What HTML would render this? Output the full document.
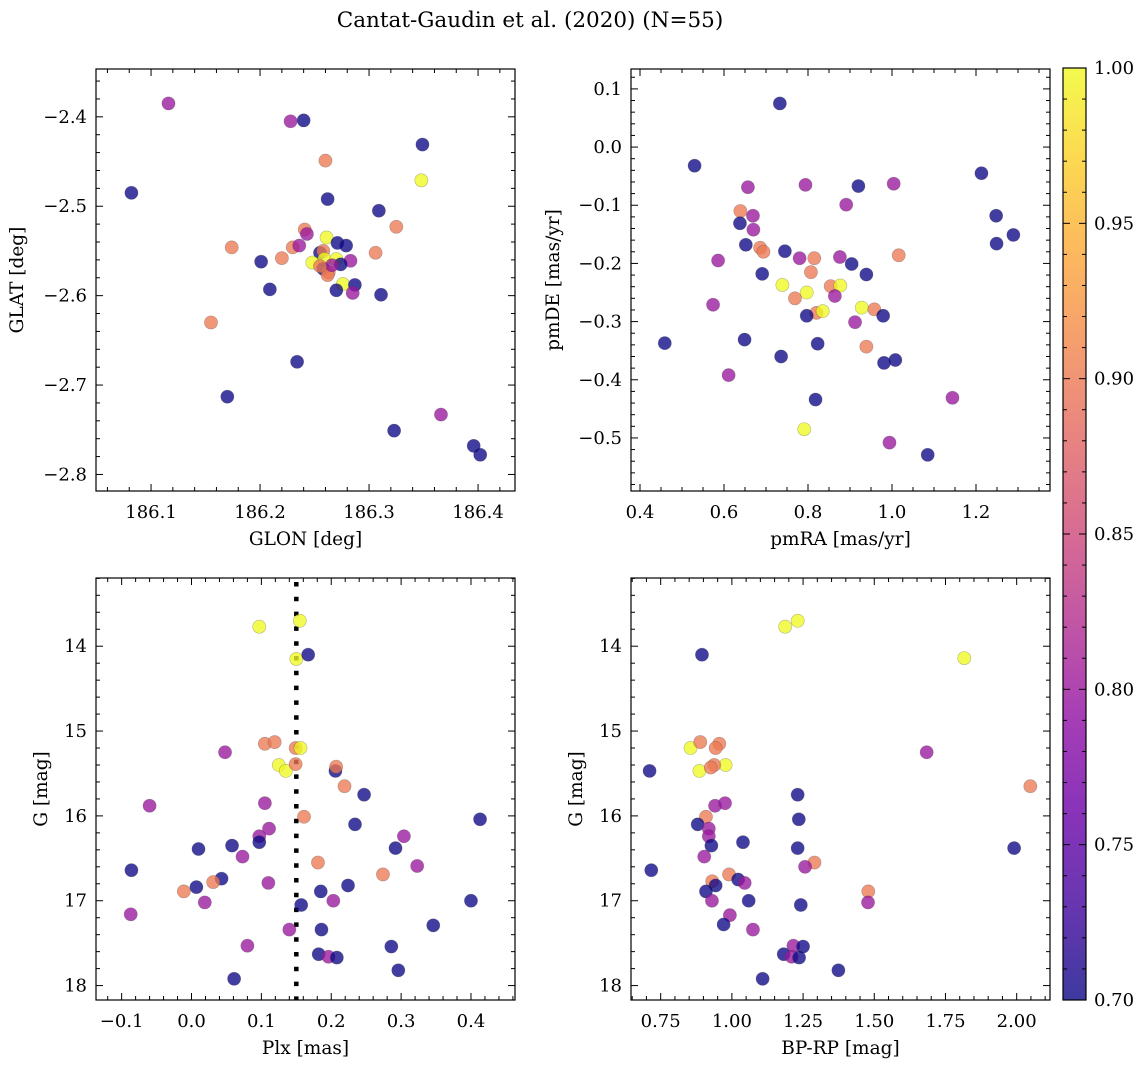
<!DOCTYPE html>
<html><head><meta charset="utf-8"><style>
html,body{margin:0;padding:0;background:#fff;}
svg{display:block;font-family:"DejaVu Serif","Liberation Serif",serif;}
</style></head><body>
<svg id="fig" width="1148" height="1068" viewBox="0 0 1148 1068" xmlns="http://www.w3.org/2000/svg">
<defs>
<linearGradient id="plasma" x1="0" y1="1" x2="0" y2="0">
<stop offset="0" stop-color="#0d0887"/><stop offset="0.1" stop-color="#41049d"/><stop offset="0.2" stop-color="#6a00a8"/><stop offset="0.3" stop-color="#8f0da4"/><stop offset="0.4" stop-color="#b12a90"/><stop offset="0.5" stop-color="#cc4778"/><stop offset="0.6" stop-color="#e16462"/><stop offset="0.7" stop-color="#f2844b"/><stop offset="0.8" stop-color="#fca636"/><stop offset="0.9" stop-color="#fcce25"/><stop offset="1" stop-color="#f0f921"/>
</linearGradient>
</defs>
<text x="530" y="27" font-size="21.5" text-anchor="middle">Cantat-Gaudin et al. (2020) (N=55)</text>
</svg>
<script>
// ---- data ----
const glon=[186.116,186.228,186.240,186.349,186.260,186.348,186.082,186.262,186.309,186.325,186.241,186.243,186.261,186.174,186.230,186.236,186.271,186.279,186.306,186.220,186.201,186.255,186.258,186.259,186.270,186.248,186.283,186.274,186.258,186.263,186.262,186.209,186.276,186.287,186.270,186.285,186.311,186.155,186.234,186.170,186.366,186.323,186.396,186.402,186.266,186.255];
const glat=[-2.385,-2.405,-2.404,-2.431,-2.449,-2.471,-2.485,-2.492,-2.505,-2.523,-2.526,-2.531,-2.535,-2.546,-2.546,-2.544,-2.541,-2.544,-2.552,-2.558,-2.562,-2.552,-2.550,-2.559,-2.559,-2.563,-2.561,-2.565,-2.570,-2.574,-2.577,-2.593,-2.587,-2.588,-2.594,-2.597,-2.599,-2.630,-2.674,-2.713,-2.733,-2.751,-2.768,-2.778,-2.566,-2.567];
const prob1=[0.80,0.80,0.70,0.70,0.90,1.0,0.70,0.70,0.70,0.90,0.90,0.80,1.0,0.90,0.90,0.80,0.70,0.70,0.90,0.90,0.70,0.70,0.90,1.0,1.0,1.0,0.80,0.70,0.70,0.90,0.90,0.70,1.0,0.70,0.70,0.80,0.70,0.90,0.70,0.70,0.80,0.70,0.70,0.70,0.80,0.90];
const pmra=[0.733,0.530,0.657,0.794,0.920,1.004,1.213,0.891,0.639,0.669,0.638,0.670,1.248,1.289,1.249,0.652,0.686,0.694,0.745,0.586,0.780,0.815,0.876,1.016,0.904,0.939,0.691,0.807,0.739,0.854,0.877,0.797,0.769,0.864,0.574,0.820,0.797,0.835,0.928,0.958,0.979,0.912,0.459,0.649,0.823,0.939,0.736,0.981,1.008,0.611,0.818,1.144,0.791,0.994,1.085];
const pmde=[0.075,-0.032,-0.069,-0.065,-0.067,-0.063,-0.045,-0.099,-0.110,-0.118,-0.131,-0.142,-0.118,-0.151,-0.166,-0.168,-0.173,-0.180,-0.179,-0.195,-0.191,-0.191,-0.189,-0.186,-0.201,-0.219,-0.218,-0.215,-0.237,-0.239,-0.238,-0.250,-0.260,-0.256,-0.271,-0.285,-0.290,-0.282,-0.276,-0.279,-0.290,-0.301,-0.337,-0.331,-0.338,-0.343,-0.360,-0.371,-0.366,-0.392,-0.434,-0.431,-0.485,-0.508,-0.529];
const prob2=[0.70,0.70,0.80,0.80,0.70,0.80,0.70,0.80,0.90,0.80,0.70,0.80,0.70,0.70,0.70,0.70,0.90,0.90,0.70,0.80,0.80,0.90,0.80,0.90,0.70,0.70,0.70,0.90,1.0,0.90,1.0,1.0,0.90,0.80,0.80,0.90,0.70,1.0,1.0,0.90,0.70,0.80,0.70,0.70,0.70,0.90,0.70,0.70,0.70,0.80,0.70,0.80,1.0,0.80,0.70];
const plx=[0.097,0.155,0.150,0.167,0.105,0.119,0.048,0.149,0.156,0.125,0.135,0.149,0.206,0.207,0.219,0.247,-0.060,0.105,0.161,0.413,0.234,0.111,0.097,0.097,0.304,0.292,0.010,0.058,0.073,0.181,0.323,0.274,-0.086,0.043,0.031,0.110,0.224,-0.011,0.007,0.185,0.019,0.203,0.400,0.157,-0.087,0.346,0.140,0.186,0.080,0.286,0.182,0.196,0.208,0.296,0.061];
const gmag3=[13.77,13.70,14.15,14.10,15.15,15.13,15.25,15.20,15.20,15.40,15.47,15.39,15.47,15.42,15.65,15.75,15.88,15.85,16.01,16.04,16.10,16.15,16.24,16.31,16.24,16.38,16.39,16.35,16.48,16.55,16.59,16.69,16.64,16.74,16.78,16.79,16.82,16.89,16.84,16.89,17.02,17.00,17.00,17.05,17.16,17.29,17.34,17.34,17.53,17.54,17.63,17.66,17.67,17.82,17.92];
const prob3=[1.0,1.0,1.0,0.70,0.90,0.90,0.80,0.90,1.0,1.0,1.0,0.90,0.70,0.90,0.90,0.70,0.80,0.80,0.90,0.70,0.70,0.80,0.80,0.70,0.80,0.70,0.70,0.70,0.80,0.90,0.80,0.90,0.70,0.70,0.90,0.80,0.70,0.90,0.70,0.70,0.80,0.80,0.70,0.70,0.80,0.70,0.80,0.70,0.80,0.70,0.70,0.80,0.70,0.70,0.70];
const bprp=[1.187,1.231,1.816,0.895,0.855,0.889,0.956,0.943,0.886,0.978,0.938,0.926,1.684,0.711,2.048,1.231,0.941,0.976,0.909,1.235,0.880,0.919,0.919,0.928,1.039,1.231,1.991,0.903,1.290,1.257,0.717,0.990,1.022,1.045,0.931,0.943,0.909,1.479,0.930,1.059,1.478,1.242,0.993,0.971,1.074,1.216,1.250,1.182,1.210,1.236,1.374,1.108];
const gmag4=[13.77,13.70,14.14,14.10,15.20,15.13,15.15,15.20,15.47,15.40,15.40,15.43,15.25,15.47,15.65,15.75,15.88,15.85,16.01,16.04,16.10,16.15,16.24,16.35,16.31,16.38,16.38,16.48,16.55,16.60,16.64,16.69,16.75,16.79,16.77,16.82,16.89,16.89,17.00,17.00,17.02,17.05,17.17,17.28,17.34,17.53,17.54,17.63,17.66,17.67,17.82,17.92];
const prob4=[1.0,1.0,1.0,0.70,1.0,0.90,0.90,0.90,1.0,1.0,0.90,0.90,0.80,0.70,0.90,0.70,0.80,0.80,0.90,0.70,0.70,0.80,0.80,0.70,0.70,0.70,0.70,0.80,0.90,0.80,0.70,0.90,0.70,0.80,0.90,0.70,0.70,0.90,0.80,0.70,0.80,0.70,0.80,0.70,0.80,0.80,0.70,0.70,0.80,0.70,0.70,0.70];
const ticks1x=[186.1,186.2,186.3,186.4], ticks1y=[-2.4,-2.5,-2.6,-2.7,-2.8];
const ticks2x=[0.4,0.6,0.8,1.0,1.2], ticks2y=[0.1,0.0,-0.1,-0.2,-0.3,-0.4,-0.5];
const ticks3x=[-0.1,0.0,0.1,0.2,0.3,0.4], ticksG=[14,15,16,17,18];
const ticks4x=[0.75,1.00,1.25,1.50,1.75,2.00];
const cbTicks=[0.70,0.75,0.80,0.85,0.90,0.95,1.00];
const plxRef=0.15;

const NS="http://www.w3.org/2000/svg";
const svg=document.getElementById('fig');
const TF=18, LF=18.5;
function mk(tag,attrs,parent){const e=document.createElementNS(NS,tag);for(const k in attrs)e.setAttribute(k,attrs[k]);(parent||svg).appendChild(e);return e;}
const stops=[[13,8,135],[65,4,157],[106,0,168],[143,13,164],[177,42,144],[204,71,120],[225,100,98],[242,132,75],[252,166,54],[252,206,37],[240,249,33]];
function plasma(v){let t=Math.max(0,Math.min(1,(v-0.7)/0.3))*10;const i=Math.min(9,Math.floor(t)),f=t-i;const a=stops[i],b=stops[i+1];return `rgb(${a.map((c,k)=>Math.round(c+(b[k]-c)*f)).join(',')})`;}
function fmt(v,d){return (v<0?'\u2212':'')+Math.abs(v).toFixed(d);}

function panel(o){
  const g=mk('g',{});
  
  
  const sx=v=>o.x0+(v-o.xmin)/(o.xmax-o.xmin)*(o.x1-o.x0);
  const sy=v=>o.inv? o.y0+(v-o.ymin)/(o.ymax-o.ymin)*(o.y1-o.y0) : o.y1-(v-o.ymin)/(o.ymax-o.ymin)*(o.y1-o.y0);
  const tk=mk('g',{stroke:'#000','stroke-width':1},g);
  
  
  for(let v=Math.ceil(o.xmin/o.xminor-1e-6)*o.xminor;v<=o.xmax+1e-9;v+=o.xminor){const X=sx(v);const maj=o.xt.some(t=>Math.abs(t-v)<1e-6);const L=maj?7:4;
    mk('line',{x1:X,x2:X,y1:o.y1,y2:o.y1-L},tk);mk('line',{x1:X,x2:X,y1:o.y0,y2:o.y0+L},tk);}
  for(let v=Math.ceil(o.ymin/o.yminor-1e-6)*o.yminor;v<=o.ymax+1e-9;v+=o.yminor){const Y=sy(v);const maj=o.yt.some(t=>Math.abs(t-v)<1e-6);const L=maj?7:4;
    mk('line',{y1:Y,y2:Y,x1:o.x0,x2:o.x0+L},tk);mk('line',{y1:Y,y2:Y,x1:o.x1,x2:o.x1-L},tk);}
  o.xt.forEach(t=>{const e=mk('text',{x:sx(t),y:o.y1+27,'font-size':TF,'text-anchor':'middle'},g);e.textContent=fmt(t,o.xd);
    
    });
  o.yt.forEach(t=>{const e=mk('text',{x:o.x0-9,y:sy(t)+6,'font-size':TF,'text-anchor':'end'},g);e.textContent=fmt(t,o.yd);
    
    });
  const xl=mk('text',{x:(o.x0+o.x1)/2,y:o.y1+54,'font-size':LF,'text-anchor':'middle'},g);xl.textContent=o.xlabel;
  
  
  const yl=mk('text',{x:0,y:0,'font-size':LF,'text-anchor':'middle',transform:`translate(${o.ylx},${(o.y0+o.y1)/2}) rotate(-90)`},g);yl.textContent=o.ylabel;
  
  
  if(o.vline!==undefined){const l=mk('line',{x1:sx(o.vline),x2:sx(o.vline),y1:o.y0+4,y2:o.y1,stroke:'#000','stroke-width':4.5,'stroke-dasharray':'4.5 10.3'},g);
    
    }
  o.xs.forEach((v,i)=>{const c=mk('circle',{cx:sx(v),cy:sy(o.ys[i]),r:6.6,fill:plasma(o.ps[i]),'fill-opacity':0.78,stroke:'rgba(60,60,60,0.35)','stroke-width':0.6},g);
    
    });
  const fr=mk('rect',{x:o.x0,y:o.y0,width:o.x1-o.x0,height:o.y1-o.y0,fill:'none',stroke:'#000','stroke-width':1.2},g);
  
  
}
panel({name:'glon-glat-panel',x0:96,x1:515,y0:69,y1:491,xmin:186.0495,xmax:186.4339,ymin:-2.8185,ymax:-2.3465,inv:false,xt:ticks1x,yt:ticks1y,xminor:0.02,yminor:0.02,xd:1,yd:1,xlabel:'GLON [deg]',ylabel:'GLAT [deg]',ylx:23,xs:glon,ys:glat,ps:prob1});
panel({name:'proper-motion-panel',x0:631,x1:1050,y0:69,y1:491,xmin:0.3786,xmax:1.3762,ymin:-0.5912,ymax:0.1342,inv:false,xt:ticks2x,yt:ticks2y,xminor:0.05,yminor:0.02,xd:1,yd:1,xlabel:'pmRA [mas/yr]',ylabel:'pmDE [mas/yr]',ylx:559,xs:pmra,ys:pmde,ps:prob2});
panel({name:'parallax-cmd-panel',x0:96,x1:515,y0:578,y1:1000,xmin:-0.1367,xmax:0.4630,ymin:13.196,ymax:18.17,inv:true,xt:ticks3x,yt:ticksG,xminor:0.02,yminor:0.2,xd:1,yd:0,xlabel:'Plx [mas]',ylabel:'G [mag]',ylx:47,xs:plx,ys:gmag3,ps:prob3,vline:plxRef});
panel({name:'color-magnitude-panel',x0:631,x1:1050,y0:578,y1:1000,xmin:0.6458,xmax:2.117,ymin:13.196,ymax:18.17,inv:true,xt:ticks4x,yt:ticksG,xminor:0.05,yminor:0.2,xd:2,yd:0,xlabel:'BP-RP [mag]',ylabel:'G [mag]',ylx:582,xs:bprp,ys:gmag4,ps:prob4});

const cb=mk('g',{});


const cx0=1063,cx1=1086,cy0=68,cy1=1000;
mk('rect',{x:cx0,y:cy0,width:cx1-cx0,height:cy1-cy0,fill:'url(#plasma)','fill-opacity':0.8},cb);
const csy=v=>cy1-(v-0.7)/0.3*(cy1-cy0);
for(let k=0;k<=30;k++){const v=0.7+k*0.01;const Y=csy(v);const maj=k%5===0;
  mk('line',{x1:cx1,x2:cx1-(maj?7:4),y1:Y,y2:Y,stroke:'#000','stroke-width':1},cb);
  mk('line',{x1:cx0,x2:cx0+(maj?7:4),y1:Y,y2:Y,stroke:'#000','stroke-width':1},cb);}
cbTicks.forEach(t=>{const e=mk('text',{x:cx1+8,y:csy(t)+6,'font-size':TF},cb);e.textContent=t.toFixed(2);
  
  });
mk('rect',{x:cx0,y:cy0,width:cx1-cx0,height:cy1-cy0,fill:'none',stroke:'#000','stroke-width':1.2},cb);
</script>
</body></html>
